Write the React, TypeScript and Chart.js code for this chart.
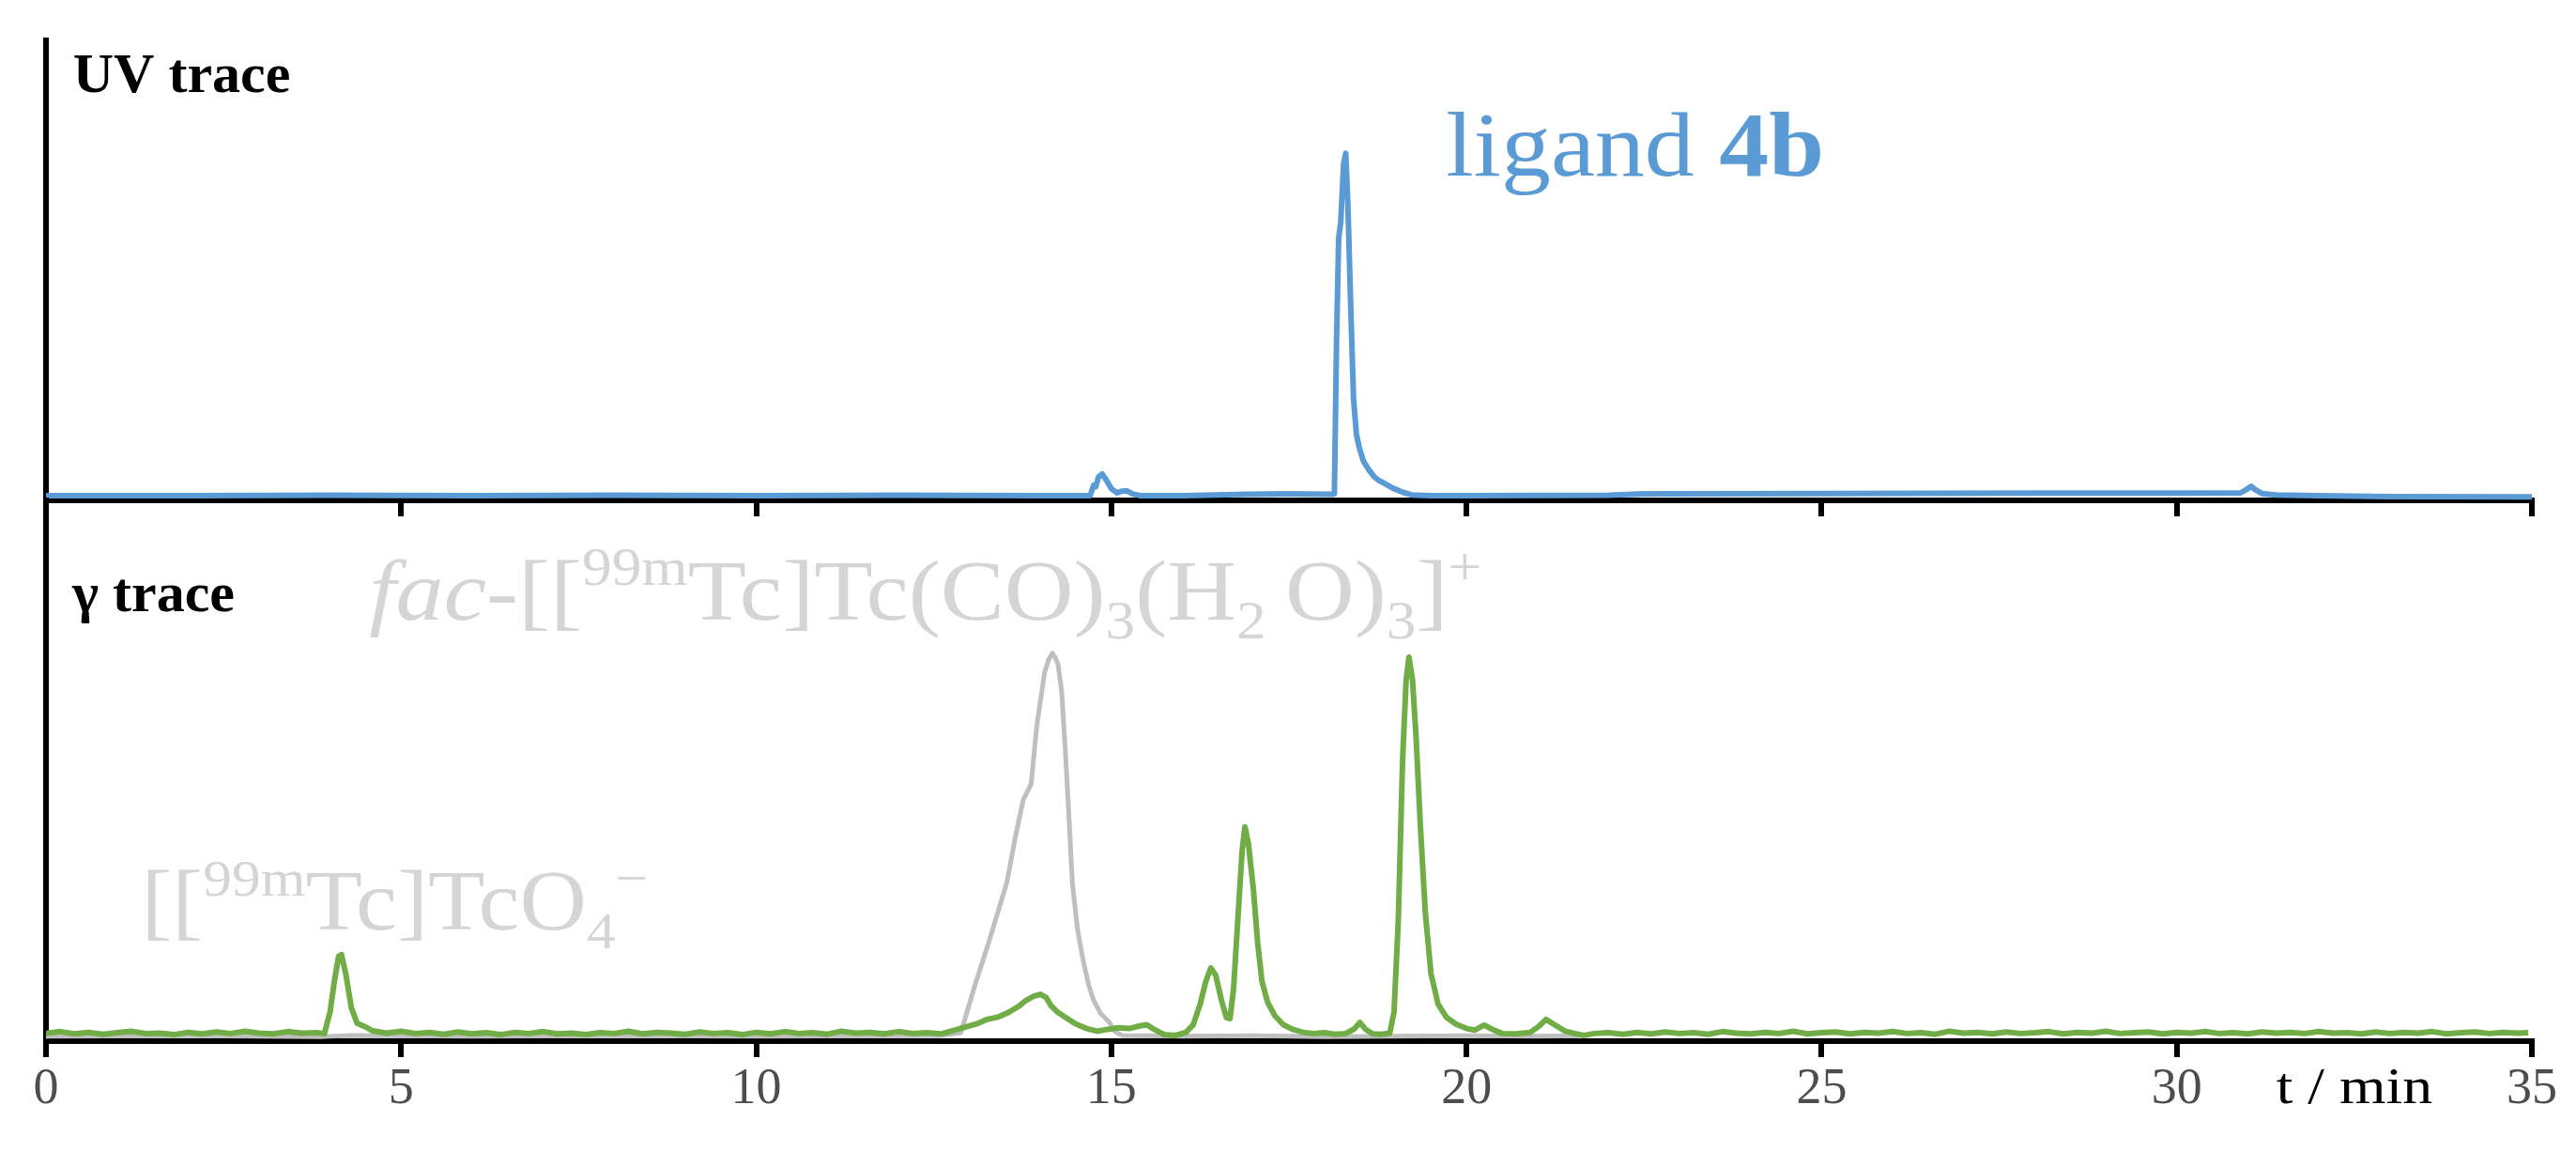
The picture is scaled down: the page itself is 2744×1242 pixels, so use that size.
import React, { useEffect, useRef } from 'react';
import { Chart, registerables } from 'chart.js';
Chart.register(...registerables);

// ---- data (time in min, signal in arbitrary units) ----
const xTickStep = 5;
const xMin = 0;
const xMax = 35;

const uvTime = [0, 2, 4, 6, 8, 10, 12, 14, 14.7, 14.75, 14.78, 14.82, 14.87, 14.93, 15.0, 15.08, 15.15, 15.22, 15.3, 15.4, 16, 16.9, 17.5, 18.1, 18.14, 18.17, 18.2, 18.23, 18.27, 18.3, 18.33, 18.37, 18.41, 18.45, 18.49, 18.55, 18.62, 18.7, 18.76, 18.85, 18.96, 19.1, 19.23, 19.5, 20, 22, 22.5, 25, 28, 30, 30.9, 31.0, 31.05, 31.1, 31.2, 31.4, 32, 33, 35];
const uvSignal = [0, 0, 0.1, 0, 0.1, 0, 0.1, 0, 0, 3.0, 2.6, 5.5, 6.3, 4.5, 2.0, 0.8, 1.3, 1.4, 0.5, 0, 0, 0.4, 0.5, 0.4, 0.5, 45, 75, 80, 97, 100, 85, 55, 28, 18, 14, 10, 7.7, 5.5, 4.5, 3.5, 2.2, 1.0, 0.2, 0, 0, 0.1, 0.5, 0.6, 0.7, 0.7, 0.8, 2.0, 2.7, 1.8, 0.6, 0.2, 0, -0.3, -0.4];

const gammaTime = [0.0, 0.2, 0.4, 0.6, 0.8, 1.0, 1.2, 1.4, 1.6, 1.8, 2.0, 2.2, 2.4, 2.6, 2.8, 3.0, 3.2, 3.4, 3.6, 3.8, 3.92, 4.0, 4.06, 4.12, 4.16, 4.22, 4.3, 4.38, 4.48, 4.6, 4.8, 5.0, 5.2, 5.4, 5.6, 5.8, 6.0, 6.2, 6.4, 6.6, 6.8, 7.0, 7.2, 7.4, 7.6, 7.8, 8.0, 8.2, 8.4, 8.6, 8.8, 9.0, 9.2, 9.4, 9.6, 9.8, 10.0, 10.2, 10.4, 10.6, 10.8, 11.0, 11.2, 11.4, 11.6, 11.8, 12.0, 12.2, 12.4, 12.6, 12.8, 12.95, 13.1, 13.25, 13.4, 13.55, 13.7, 13.8, 13.9, 14.0, 14.08, 14.15, 14.25, 14.35, 14.5, 14.65, 14.8, 14.95, 15.1, 15.25, 15.4, 15.5, 15.6, 15.75, 15.9, 16.05, 16.15, 16.25, 16.33, 16.4, 16.47, 16.55, 16.62, 16.67, 16.72, 16.78, 16.84, 16.88, 16.93, 17.0, 17.06, 17.12, 17.2, 17.3, 17.42, 17.55, 17.7, 17.85, 18.0, 18.15, 18.3, 18.42, 18.5, 18.58, 18.68, 18.8, 18.92, 18.98, 19.04, 19.1, 19.15, 19.19, 19.24, 19.29, 19.35, 19.42, 19.5, 19.6, 19.72, 19.85, 20.0, 20.12, 20.25, 20.35, 20.5, 20.7, 20.9, 21.02, 21.12, 21.25, 21.38, 21.5, 21.65, 21.8, 22.0, 22.2, 22.4, 22.6, 22.8, 23.0, 23.2, 23.4, 23.6, 23.8, 24.0, 24.2, 24.4, 24.6, 24.8, 25.0, 25.2, 25.4, 25.6, 25.8, 26.0, 26.2, 26.4, 26.6, 26.8, 27.0, 27.2, 27.4, 27.6, 27.8, 28.0, 28.2, 28.4, 28.6, 28.8, 29.0, 29.2, 29.4, 29.6, 29.8, 30.0, 30.2, 30.4, 30.6, 30.8, 31.0, 31.2, 31.4, 31.6, 31.8, 32.0, 32.2, 32.4, 32.6, 32.8, 33.0, 33.2, 33.4, 33.6, 33.8, 34.0, 34.2, 34.4, 34.6, 34.8, 34.95];
const gammaSignal = [0.3, 0.8, 0.2, 0.6, 0.1, 0.5, 0.9, 0.3, 0.4, 0.0, 0.6, 0.2, 0.7, 0.3, 0.9, 0.4, 0.2, 0.8, 0.4, 0.5, 0.3, 6, 14, 20.5, 21, 16, 7, 3, 2.2, 1.0, 0.4, 0.9, 0.3, 0.6, 0.1, 0.7, 0.2, 0.5, 0.0, 0.6, 0.3, 0.8, 0.2, 0.4, 0.0, 0.5, 0.3, 0.9, 0.2, 0.6, 0.4, 0.1, 0.7, 0.3, 0.5, 0.0, 0.6, 0.2, 0.8, 0.3, 0.5, 0.1, 0.9, 0.4, 0.6, 0.2, 0.8, 0.3, 0.5, 0.2, 1.2, 2.0, 2.8, 4.0, 4.6, 5.8, 7.5, 9.0, 10.0, 10.6, 9.8, 7.6, 5.8, 4.6, 2.8, 1.6, 0.9, 1.4, 1.8, 1.6, 2.3, 2.6, 1.4, 0.0, -0.2, 0.6, 2.5, 8, 14, 17.5, 15.5, 9, 4.5, 4.2, 12, 30, 48, 54.5, 50, 38, 24, 14, 8.5, 5, 2.6, 1.4, 0.6, 0.3, 0.5, 0.1, 0.3, 1.5, 3.2, 1.4, 0.2, 0.1, 0.4, 6, 30, 72, 93, 99, 93, 78, 55, 32, 16, 8, 4.5, 2.8, 1.6, 1.2, 2.5, 1.5, 0.3, 0.2, 0.6, 2.2, 4.0, 2.5, 1.0, 0.4, -0.2, 0.3, 0.5, 0.1, 0.6, 0.2, 0.7, 0.3, 0.5, 0.1, 0.8, 0.4, 0.2, 0.6, 0.3, 0.9, 0.2, 0.5, 0.7, 0.2, 0.6, 0.4, 0.8, 0.3, 0.5, 0.1, 0.9, 0.4, 0.6, 0.2, 0.7, 0.3, 0.5, 0.8, 0.2, 0.6, 0.4, 0.9, 0.3, 0.5, 0.7, 0.2, 0.6, 0.4, 0.8, 0.3, 0.5, 0.2, 0.7, 0.4, 0.6, 0.3, 0.8, 0.4, 0.5, 0.2, 0.7, 0.3, 0.6, 0.4, 0.8, 0.2, 0.5, 0.7, 0.3, 0.6, 0.4, 0.5];

const refTime = [0, 2, 3.9, 4.3, 6, 8, 10, 12, 12.6, 12.88, 13.08, 13.27, 13.4, 13.53, 13.65, 13.76, 13.87, 13.95, 14.06, 14.12, 14.17, 14.22, 14.25, 14.3, 14.35, 14.4, 14.45, 14.52, 14.6, 14.68, 14.75, 14.85, 14.97, 15.05, 15.15, 16, 17, 18, 19, 20, 21, 21.6];
const refSignal = [-0.4, -0.3, -0.5, -0.2, -0.4, -0.3, -0.4, -0.3, -0.2, 0.5, 13, 24, 32, 40, 52, 61.6, 65.7, 81, 95, 98.5, 100, 98.5, 97, 90, 75, 58, 40, 28, 19.7, 13, 9, 5.5, 3.3, 0.8, -0.2, -0.4, -0.3, -0.5, -0.4, -0.3, -0.4, -0.3];

// ---- styling ----
const SERIF = '"Liberation Serif", "Times New Roman", serif';
const BLUE = '#5b9bd5';
const GREEN = '#70ad47';
const GREY_TRACE = '#bfbfbf';
const GREY_LABEL = '#d5d5d5';
const W = 2744;
const TOP_H = 560;
const BOT_TOP = 500;
const BOT_H = 1242 - BOT_TOP;
const MID_AXIS = 533;
const LOW_AXIS = 1109;
const TICK_LEN = 17;
const TICK_FONT = 54;
const TICK_PAD = 8;
const AXIS_W = 6;
const TRACE_W = 6;

type Part = [string, 'n' | 'i' | 'b' | 'sup' | 'sub'];

function drawRich(ctx: CanvasRenderingContext2D, x: number, y: number, parts: Part[], size: number, color: string, stretch: number) {
  ctx.save();
  ctx.translate(x, y);
  ctx.scale(stretch, 1);
  ctx.fillStyle = color;
  ctx.textBaseline = 'alphabetic';
  ctx.textAlign = 'left';
  let cx = 0;
  for (const [t, k] of parts) {
    let s = size;
    let dy = 0;
    let style = '';
    if (k === 'sup') { s = size * 0.62; dy = -size * 0.4; }
    if (k === 'sub') { s = size * 0.62; dy = size * 0.22; }
    if (k === 'i') style = 'italic ';
    if (k === 'b') style = 'bold ';
    ctx.font = `${style}${s}px ${SERIF}`;
    ctx.fillText(t, cx, dy);
    cx += ctx.measureText(t).width;
  }
  ctx.restore();
}

const toPoints = (ts: number[], vs: number[]) => ts.map((t, i) => ({ x: t, y: vs[i] }));

function xScale(showLabels: boolean, height: number) {
  return {
    type: 'linear' as const,
    min: xMin,
    max: xMax,
    afterFit: (s: any) => { s.height = height; },
    ticks: {
      stepSize: xTickStep,
      display: showLabels,
      color: '#4d4d4d',
      padding: TICK_PAD,
      font: { family: SERIF, size: TICK_FONT, lineHeight: 1 },
      maxRotation: 0,
    },
    grid: {
      display: true,
      drawOnChartArea: false,
      drawTicks: true,
      tickLength: TICK_LEN,
      tickWidth: AXIS_W,
      tickColor: '#000',
      color: '#000',
      lineWidth: AXIS_W,
    },
    border: { display: true, color: '#000', width: AXIS_W },
  };
}

function yScale(min: number, max: number) {
  return {
    type: 'linear' as const,
    min,
    max,
    afterFit: (s: any) => { s.width = 0; },
    ticks: { display: false },
    grid: { display: false },
    border: { display: true, color: '#000', width: AXIS_W },
  };
}

export default function App() {
  const topRef = useRef<HTMLCanvasElement>(null);
  const botRef = useRef<HTMLCanvasElement>(null);

  useEffect(() => {
    document.body.style.margin = '0';

    const topLabels = {
      id: 'topLabels',
      afterDatasetsDraw(chart: any) {
        const { ctx, scales } = chart;
        const x = scales.x;
        const y = scales.y;
        drawRich(ctx, x.getPixelForValue(0.38), y.getPixelForValue(118), [['UV trace', 'b']], 60, '#000', 1);
        drawRich(ctx, x.getPixelForValue(19.71), y.getPixelForValue(93.4), [['ligand ', 'n'], ['4b', 'b']], 98, BLUE, 1.08);
      },
    };

    const botLabels = {
      id: 'botLabels',
      afterDatasetsDraw(chart: any) {
        const { ctx, scales } = chart;
        const x = scales.x;
        const y = scales.y;
        drawRich(ctx, x.getPixelForValue(0.37), y.getPixelForValue(111), [['γ trace', 'b']], 60, '#000', 1);
        drawRich(ctx, x.getPixelForValue(4.55), y.getPixelForValue(108.9), [
          ['fac', 'i'], ['-[[', 'n'], ['99m', 'sup'], ['Tc]Tc(CO)', 'n'], ['3', 'sub'], ['(H', 'n'], ['2', 'sub'], ['\u2009O)', 'n'], ['3', 'sub'], [']', 'n'], ['+', 'sup'],
        ], 92, GREY_LABEL, 1.11);
        drawRich(ctx, x.getPixelForValue(1.34), y.getPixelForValue(27.5), [
          ['[[', 'n'], ['99m', 'sup'], ['Tc]TcO', 'n'], ['4', 'sub'], ['\u2212', 'sup'],
        ], 90, GREY_LABEL, 1.1);
        // axis unit label, placed among the tick labels
        ctx.save();
        ctx.font = `${TICK_FONT}px ${SERIF}`;
        ctx.fillStyle = '#000';
        ctx.textAlign = 'center';
        ctx.textBaseline = 'middle';
        const cy = x.top + TICK_LEN + TICK_PAD + TICK_FONT * 0.5;
        const cx = x.getPixelForValue(32.5);
        ctx.translate(cx, cy);
        ctx.scale(1.18, 1);
        ctx.fillText('t / min', 0, 0);
        ctx.restore();
      },
    };

    const common = {
      responsive: false,
      animation: false as const,
      devicePixelRatio: 1,
      plugins: { legend: { display: false }, tooltip: { enabled: false } },
      elements: { point: { radius: 0 }, line: { tension: 0, borderJoinStyle: 'round' as const } },
    };

    const topChart = new Chart(topRef.current!, {
      type: 'line',
      data: {
        datasets: [
          { data: toPoints(uvTime, uvSignal), borderColor: BLUE, borderWidth: TRACE_W, fill: false },
        ],
      },
      options: {
        ...common,
        layout: { padding: { top: 43, left: 49, right: W - 2697, bottom: 0 } },
        scales: { x: xScale(false, TOP_H - MID_AXIS), y: yScale(-1.4, 133) },
      },
      plugins: [topLabels],
    } as any);

    const botChart = new Chart(botRef.current!, {
      type: 'line',
      data: {
        datasets: [
          { data: toPoints(gammaTime, gammaSignal), borderColor: GREEN, borderWidth: TRACE_W, fill: false },
          { data: toPoints(refTime, refSignal), borderColor: GREY_TRACE, borderWidth: TRACE_W - 1, fill: false },
        ],
      },
      options: {
        ...common,
        layout: { padding: { top: MID_AXIS - BOT_TOP, left: 49, right: W - 2697, bottom: 0 } },
        scales: { x: xScale(true, 1242 - LOW_AXIS), y: yScale(-1.7, 140.1) },
      },
      plugins: [botLabels],
    } as any);

    return () => {
      topChart.destroy();
      botChart.destroy();
    };
  }, []);

  return (
    <div style={{ position: 'relative', width: W, height: 1242, background: '#fff', overflow: 'hidden' }}>
      <canvas ref={topRef} width={W} height={TOP_H} style={{ position: 'absolute', left: 0, top: 0, width: W, height: TOP_H }} />
      <canvas ref={botRef} width={W} height={BOT_H} style={{ position: 'absolute', left: 0, top: BOT_TOP, width: W, height: BOT_H }} />
    </div>
  );
}
